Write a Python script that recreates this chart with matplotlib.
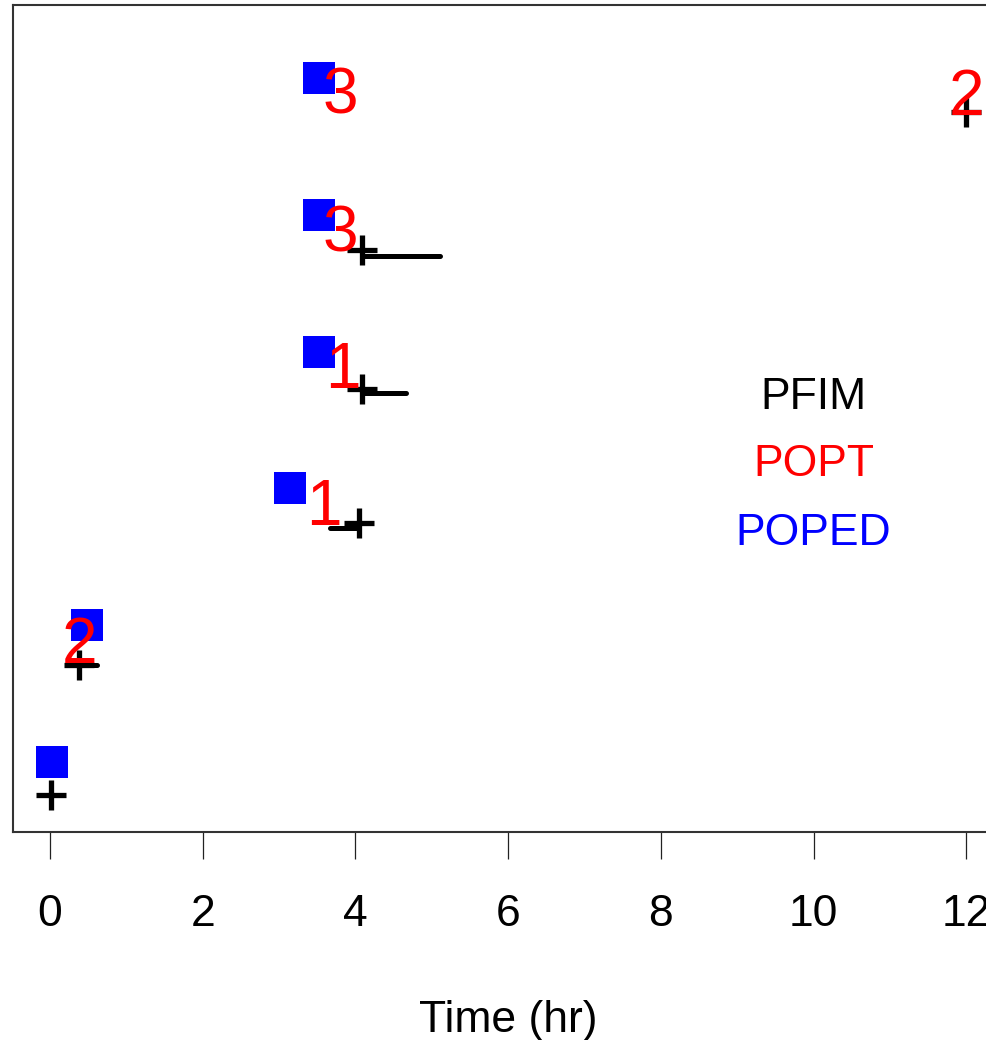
import matplotlib
matplotlib.use("Agg")
import matplotlib.pyplot as plt
from matplotlib.transforms import offset_copy

plt.rcParams['font.family'] = ['Liberation Sans', 'DejaVu Sans']

# POPED optimal times (blue squares), one row per sample
poped_t = [0.02, 0.48, 3.14, 3.52, 3.52, 3.52]
poped_y = [1, 2, 3, 4, 5, 6]

# POPT times, drawn as the count of samples at that time
popt_t = [0.39, 3.58, 3.84, 3.80, 3.80, 12.0]
popt_y = [1.89, 2.90, 3.90, 4.90, 5.905, 5.90]
popt_n = ['2', '1', '1', '3', '3', '2']

# PFIM times (+) with the end of each sampling window
pfim_t = [0.01, 0.38, 4.05, 4.09, 4.09, 11.99]
pfim_y = [0.76, 1.71, 2.75, 3.73, 4.74, 5.75]
pfim_end = [0.01, 0.62, 3.67, 4.66, 5.11, 11.99]
pfim_end_y = [0.76, 1.71, 2.71, 3.70, 4.70, 5.75]

methods = ['PFIM', 'POPT', 'POPED']
method_colors = ['black', '#FF0000', '#0000FF']
method_y = [3.70, 3.21, 2.70]

xticks = [0, 2, 4, 6, 8, 10, 12]

fig = plt.figure(figsize=(9.87, 10.4), dpi=100)
ax = fig.add_axes([0.01358, 0.2, 1.00264, 0.79519])

for t, y, te, ye in zip(pfim_t, pfim_y, pfim_end, pfim_end_y):
  if te != t:
    ax.plot([t, te], [ye, ye], color='black', lw=3.6, solid_capstyle='round')
ax.plot(pfim_t, pfim_y, ls='none', marker='+', ms=21.6, mew=3.8, color='black')

ax.plot(poped_t, poped_y, ls='none', marker='s', ms=23, mew=0, color='#0000FF')

# digits sit on the baseline, shifted down by half their height so the
# glyph is centred on the point
digit_tr = offset_copy(ax.transData, fig=fig, x=0, y=-16.5, units='points')
for t, y, n in zip(popt_t, popt_y, popt_n):
  ax.text(t, y, n, color='#FF0000', fontsize=46, ha='center', va='baseline',
          transform=digit_tr)

label_tr = offset_copy(ax.transData, fig=fig, x=0, y=-11.5, units='points')
for name, c, y in zip(methods, method_colors, method_y):
  ax.text(10, y, name, color=c, fontsize=32, ha='center', va='baseline',
          transform=label_tr)

ax.set_xlim(-0.48, 12.48)
ax.set_ylim(0.488, 6.534)
ax.set_xticks(xticks)
ax.set_xticklabels([str(v) for v in xticks], fontsize=32)
ax.set_yticks([])
ax.tick_params(axis='x', direction='out', length=19.4, width=0.9, pad=25.5, color='#222222')
for s in ax.spines.values():
  s.set_color('#333333')
  s.set_linewidth(1.5)

ax.set_xlabel('Time (hr)', fontsize=32)
ax.xaxis.set_label_coords(0.5, -0.2418)
ax.xaxis.label.set_va('baseline')

fig.savefig('out.png', dpi=100)
